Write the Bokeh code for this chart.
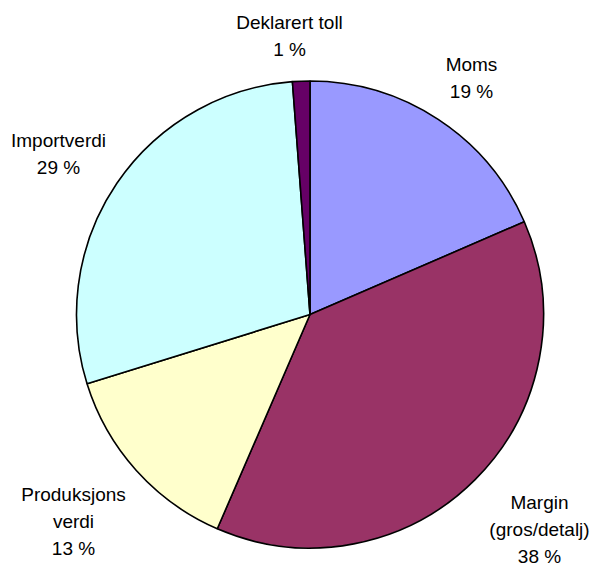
import numpy as np
from bokeh.plotting import figure
from bokeh.models import Range1d
from bokeh.core.properties import value
from bokeh.embed import file_html
from bokeh.resources import INLINE

# ---- data ----
categories = ["Moms", "Margin\n(gros/detalj)", "Produksjons\nverdi", "Importverdi", "Deklarert toll"]
shares = [18.5, 38.0, 13.7, 28.6, 1.2]
pct_labels = ["19 %", "38 %", "13 %", "29 %", "1 %"]

# ---- style / layout ----
colors = ["#9999FF", "#993366", "#FFFFCC", "#CCFFFF", "#660066"]
W, H = 595, 566
cx, cy, R = 309.5, H - 314.0, 233.5
# label anchors (center x, first-line baseline y) in pixels from top-left
label_pos = [(471, 64), (539, 502), (73, 494), (58, 140), (289, 22)]
line_gap = 26.8

p = figure(width=W, height=H, output_backend="svg", toolbar_location=None,
           x_range=Range1d(0, W), y_range=Range1d(0, H),
           x_axis_type=None, y_axis_type=None, min_border=0)
p.outline_line_color = None
p.grid.visible = False

total = float(sum(shares))
cum = np.concatenate([[0.0], np.cumsum(shares)]) / total
start = np.pi / 2 - cum[:-1] * 2 * np.pi
end = np.pi / 2 - cum[1:] * 2 * np.pi

p.wedge(x=cx, y=cy, radius=R, start_angle=start, end_angle=end,
        direction="clock", fill_color=colors, line_color="black", line_width=1.6)

xs, ys, ts = [], [], []
for cat, pct, (lx, ly) in zip(categories, pct_labels, label_pos):
    lines = cat.split("\n") + [pct]
    for i, t in enumerate(lines):
        xs.append(lx)
        ys.append(H - (ly + i * line_gap))
        ts.append(t)

p.text(x=xs, y=ys, text=ts, text_align="center", text_baseline="alphabetic",
       text_font=value("Liberation Sans"), text_font_size="19px", text_color="black")

open("out.html", "w").write(file_html(p, INLINE))
